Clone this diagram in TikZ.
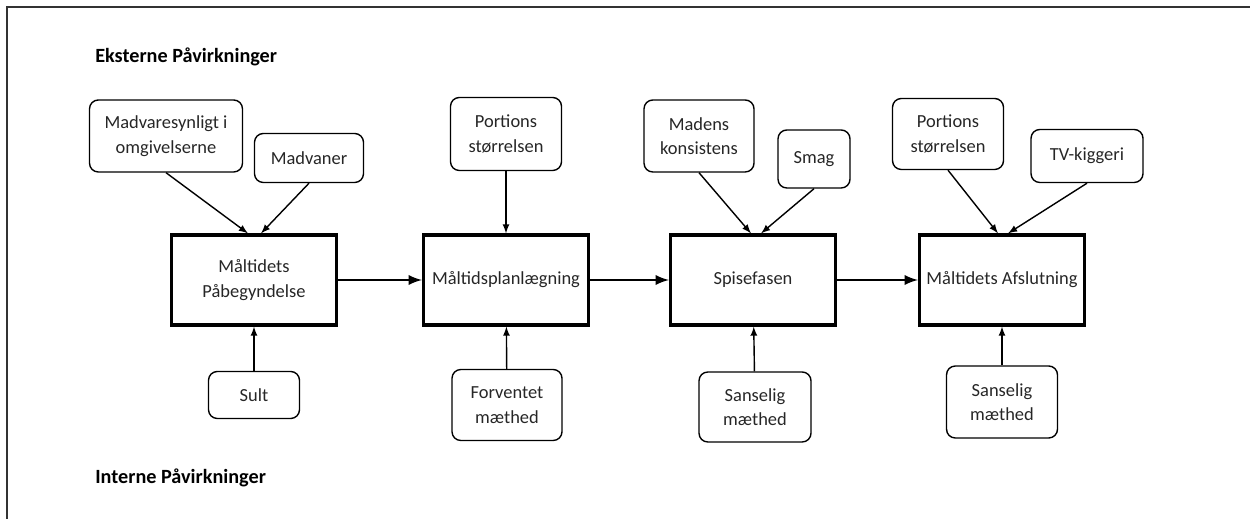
\documentclass[tikz,border=0pt]{standalone}
\usepackage{fontspec}
\setmainfont{Carlito}
\usetikzlibrary{arrows}
\tikzset{
  fase/.style={draw,line width=1.8pt,minimum width=3.3cm,minimum height=1.8cm,align=center},
  faktor/.style={draw,rounded corners=5pt,line width=0.8pt,align=center,inner sep=0pt},
  pil/.style={->,>=latex,line width=0.8pt},
  hovedpil/.style={->,>=latex,line width=1.6pt}
}

\begin{document}
\begin{tikzpicture}[x=0.02cm,y=-0.02cm,font=\fontsize{10.5}{14}\selectfont,text=black!85]
  \useasboundingbox(0,0)rectangle(1250,519);
  \draw[line width=0.9pt,black!80](7,519)--(7,7)--(1250,7);
  \node[font=\fontsize{11.5}{14}\selectfont\bfseries,text=black,anchor=west,inner sep=0pt](ekst)at(95,57){Eksterne Påvirkninger};
  \node[font=\fontsize{11.5}{14}\selectfont\bfseries,text=black,anchor=west,inner sep=0pt](int)at(95,478){Interne Påvirkninger};
  % faserne
  \node[fase](start)at(254,280){Måltidets\\Påbegyndelse};
  \node[fase](plan)at(506,280){Måltidsplanlægning};
  \node[fase](spise)at(753,280){Spisefasen};
  \node[fase](slut)at(1002,280){Måltidets Afslutning};
  % eksterne
  \node[faktor,minimum width=3.06cm,minimum height=1.44cm](synlig)at(166,136){Madvaresynligt i\\omgivelserne};
  \node[faktor,minimum width=2.18cm,minimum height=0.98cm](vaner)at(309,158){Madvaner};
  \node[faktor,minimum width=2.22cm,minimum height=1.46cm](por1)at(506,134){Portions\\størrelsen};
  \node[faktor,minimum width=2.2cm,minimum height=1.44cm](konsist)at(699,136){Madens\\konsistens};
  \node[faktor,minimum width=1.44cm,minimum height=1.16cm](smag)at(814,159){Smag};
  \node[faktor,minimum width=2.22cm,minimum height=1.42cm](por2)at(948,134){Portions\\størrelsen};
  \node[faktor,minimum width=2.24cm,minimum height=1.06cm](tv)at(1087,156){TV-kiggeri};
  % interne
  \node[faktor,minimum width=1.82cm,minimum height=0.94cm](sult)at(254,395){Sult};
  \node[faktor,minimum width=2.2cm,minimum height=1.42cm](forv)at(507,405){Forventet\\mæthed};
  \node[faktor,minimum width=2.24cm,minimum height=1.4cm](sans1)at(755,407){Sanselig\\mæthed};
  \node[faktor,minimum width=2.22cm,minimum height=1.44cm](sans2)at(1002,402){Sanselig\\mæthed};
  % pile
  \draw[hovedpil](start)--(plan);
  \draw[hovedpil](plan)--(spise);
  \draw[hovedpil](spise)--(slut);
  \draw[pil](synlig.south)--([xshift=-0.12cm]start.north);
  \draw[pil](vaner.south)--([xshift=0.14cm]start.north);
  \draw[pil](por1)--(plan);
  \draw[pil](konsist.south)--([xshift=-0.04cm]spise.north);
  \draw[pil](smag.south)--([xshift=0.16cm]spise.north);
  \draw[pil](por2.south)--([xshift=-0.08cm]slut.north);
  \draw[pil](tv.south)--([xshift=0.12cm]slut.north);
  \draw[pil](sult)--(start);
  \draw[pil](forv)--(plan);
  \draw[pil](sans1)--(spise);
  \draw[pil](sans2)--(slut);
\end{tikzpicture}
\end{document}
